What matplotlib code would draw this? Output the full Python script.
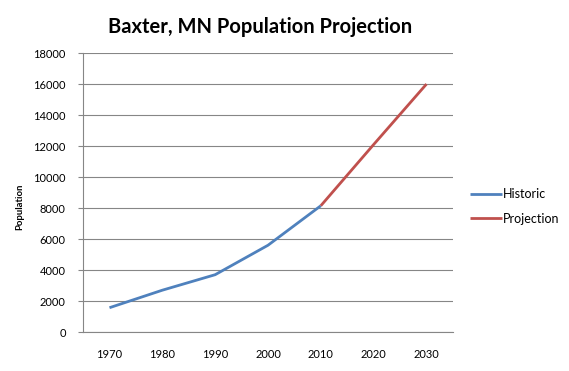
import numpy as np
import matplotlib.pyplot as plt

plt.rcParams['font.family'] = ['Lato', 'DejaVu Sans']

years = ['1970', '1980', '1990', '2000', '2010', '2020', '2030']
historic = [1570, 2700, 3700, 5600, 8150, np.nan, np.nan]
projection = [np.nan, np.nan, np.nan, np.nan, 8150, 12100, 16000]

fig = plt.figure(figsize=(5.69, 3.71), dpi=100)
ax = fig.add_axes([0.146, 0.105, 0.65, 0.752])

x = np.arange(len(years))
ax.plot(x, historic, color='#4F81BD', lw=2.0, label='Historic', solid_capstyle='butt')
ax.plot(x, projection, color='#C0504D', lw=2.0, label='Projection', solid_capstyle='butt')

ax.set_xlim(-0.5, len(years) - 0.5)
ax.set_ylim(0, 18000)
ax.set_yticks(np.arange(0, 18001, 2000))
ax.set_xticks(x)
ax.set_xticklabels(years)
ax.grid(True, axis='y', color='#868686', lw=0.8)
ax.set_axisbelow(True)
for s in ['top', 'right']:
    ax.spines[s].set_visible(False)
for s in ['left', 'bottom']:
    ax.spines[s].set_color('#868686')
ax.tick_params(axis='x', length=0, labelsize=8, pad=12)
ax.tick_params(axis='y', length=3.5, width=0.8, color='#868686', labelsize=8, pad=9)

ax.set_ylabel('Population', fontsize=6.8, fontweight='bold')
ax.yaxis.set_label_coords(-0.158, 0.45)
fig.suptitle('Baxter, MN Population Projection', fontsize=14.5, fontweight='bold',
             x=0.457, y=0.955)

ax.legend(loc='center left', bbox_to_anchor=(1.045, 0.45), frameon=False, fontsize=9,
          handlelength=2.6, labelspacing=1.0, handletextpad=0.1, borderpad=0,
          borderaxespad=0)

plt.savefig('out.png')
